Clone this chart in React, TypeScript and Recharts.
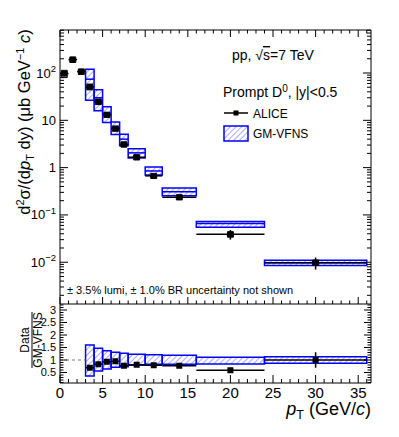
import {
  ComposedChart,
  XAxis,
  YAxis,
  Scatter,
  ErrorBar,
  ReferenceArea,
  ReferenceLine,
} from "recharts";

const W = 399;
const H = 437;
const FONT = "'Liberation Sans', Arial, Helvetica, sans-serif";
const BLUE = "#0000ff";

// ALICE prompt D0 cross section, pp 7 TeV
const binLo = [0, 1, 2, 3, 4, 5, 6, 7, 8, 10, 12, 16, 24];
const binHi = [1, 2, 3, 4, 5, 6, 7, 8, 10, 12, 16, 24, 36];
const ptCenter = [0.5, 1.5, 2.5, 3.5, 4.5, 5.5, 6.5, 7.5, 9, 11, 14, 20, 30];
const xsec = [97, 192, 107, 51, 24.7, 13.1, 6.7, 3.1, 1.66, 0.67, 0.237, 0.039, 0.0098];
const xsecStat = [12, 8, 5, 2.5, 1, 0.5, 0.25, 0.12, 0.06, 0.025, 0.01, 0.009, 0.0028];
const xsecSyst = [17, 25, 14, 7, 3.2, 1.6, 0.8, 0.38, 0.2, 0.08, 0.028, 0.005, 0.0012];

// GM-VFNS prediction
const gmLo = [3, 4, 5, 6, 7, 8, 10, 12, 16, 24];
const gmHi = [4, 5, 6, 7, 8, 10, 12, 16, 24, 36];
const gmCentral = [74, 30, 14.1, 7.05, 4.0, 2.05, 0.85, 0.31, 0.066, 0.0098];
const gmMin = [26.5, 16, 9, 5, 2.9, 1.6, 0.7, 0.255, 0.055, 0.0085];
const gmMax = [120, 44, 19.3, 9.2, 5.1, 2.5, 1.03, 0.37, 0.073, 0.011];

// Data / GM-VFNS
const ratioLo = [3, 4, 5, 6, 7, 8, 10, 12, 16, 24];
const ratioHi = [4, 5, 6, 7, 8, 10, 12, 16, 24, 36];
const ratioPt = [3.5, 4.5, 5.5, 6.5, 7.5, 9, 11, 14, 20, 30];
const ratio = [0.69, 0.83, 0.93, 0.95, 0.77, 0.81, 0.79, 0.77, 0.59, 1.0];
const ratioStat = [0.03, 0.03, 0.03, 0.03, 0.03, 0.03, 0.03, 0.04, 0.05, 0.31];
const gmRatioMin = [0.36, 0.56, 0.64, 0.71, 0.73, 0.79, 0.83, 0.83, 0.84, 0.87];
const gmRatioMax = [1.6, 1.47, 1.37, 1.31, 1.27, 1.23, 1.21, 1.19, 1.11, 1.13];

// axes
const X_DOMAIN: [number, number] = [0, 36.5];
const Y_DOMAIN: [number, number] = [0.00131, 811];
const R_DOMAIN: [number, number] = [0.08, 3.24];
const xMajor = [0, 5, 10, 15, 20, 25, 30, 35];
const yMajorTop = [0.01, 0.1, 1, 10, 100];
const yTopLabels: [string, string][] = [
  ["10", "\u22122"],
  ["10", "\u22121"],
  ["1", ""],
  ["10", ""],
  ["10", "2"],
];
const yMajorRatio = [0.5, 1, 1.5, 2, 2.5, 3];

const xMinor: number[] = [];
for (let i = 1; i <= 36; i++) if (i % 5 !== 0) xMinor.push(i);
const yMinorTop: number[] = [];
for (let e = -3; e <= 2; e++)
  for (let m = 2; m <= 9; m++) {
    const v = m * Math.pow(10, e);
    if (v > Y_DOMAIN[0] && v < Y_DOMAIN[1]) yMinorTop.push(v);
  }
const yMinorRatio: number[] = [];
for (let i = 1; i <= 32; i++) if (i % 5 !== 0) yMinorRatio.push(i / 10);

const dataPoints = ptCenter.map((x, i) => ({
  x,
  y: xsec[i],
  ex: (binHi[i] - binLo[i]) / 2,
  ey: xsecStat[i],
}));
const ratioPoints = ratioPt.map((x, i) => ({
  x,
  y: ratio[i],
  ex: (ratioHi[i] - ratioLo[i]) / 2,
  ey: ratioStat[i],
}));

const noLabel = () => <g />;

const Square = (p: any) => (
  <rect x={p.cx - 3} y={p.cy - 3} width={6} height={6} fill="#000" />
);

const PowTick = (p: any) => {
  const idx = yMajorTop.indexOf(p.payload.value);
  const [base, exp] = yTopLabels[idx] || ["", ""];
  return (
    <text x={p.x} y={p.y + 4.5} textAnchor="end" fontSize={13} fontFamily={FONT} fill="#000">
      {base}
      {exp && (
        <tspan dy={-5.5} fontSize={9.5}>
          {exp}
        </tspan>
      )}
    </text>
  );
};

// tiny but non-zero thickness so the axis still renders
const THIN = 0.01;

function xTickAxis(id: string, ticks: number[], size: number, orient: "top" | "bottom", line: boolean) {
  return (
    <XAxis
      key={id}
      xAxisId={id}
      type="number"
      dataKey="x"
      domain={X_DOMAIN}
      allowDataOverflow
      ticks={ticks}
      interval={0}
      orientation={orient}
      mirror
      height={THIN}
      tickSize={size}
      tick={noLabel}
      axisLine={line ? { stroke: "#000" } : false}
      tickLine={{ stroke: "#000" }}
    />
  );
}

function yTickAxis(
  id: string,
  ticks: number[],
  size: number,
  orient: "left" | "right",
  line: boolean,
  log: boolean,
  domain: [number, number]
) {
  return (
    <YAxis
      key={id}
      yAxisId={id}
      type="number"
      scale={log ? "log" : "linear"}
      domain={domain}
      allowDataOverflow
      ticks={ticks}
      interval={0}
      orientation={orient}
      mirror
      width={THIN}
      tickSize={size}
      tick={noLabel}
      axisLine={line ? { stroke: "#000" } : false}
      tickLine={{ stroke: "#000" }}
    />
  );
}

const Hatch = ({ id }: { id: string }) => (
  <pattern id={id} patternUnits="userSpaceOnUse" width={4} height={4} patternTransform="rotate(45)">
    <line x1={0} y1={0} x2={0} y2={4} stroke="#2a2aff" strokeWidth={0.8} />
  </pattern>
);

function TopPanel() {
  return (
    <ComposedChart width={W} height={H} margin={{ top: 30, right: 28, bottom: 133, left: 0 }}>
      <defs>
        <Hatch id="hatchTop" />
      </defs>
      {xTickAxis("xb", xMajor, 7, "bottom", true)}
      {xTickAxis("xbm", xMinor, 3.5, "bottom", false)}
      {xTickAxis("xt", xMajor, 7, "top", true)}
      {xTickAxis("xtm", xMinor, 3.5, "top", false)}
      <YAxis
        yAxisId="y"
        type="number"
        dataKey="y"
        scale="log"
        domain={Y_DOMAIN}
        allowDataOverflow
        ticks={yMajorTop}
        interval={0}
        width={60}
        tickSize={0}
        tickMargin={4}
        tickLine={false}
        axisLine={false}
        tick={PowTick}
      />
      {yTickAxis("yl", yMajorTop, 8, "left", true, true, Y_DOMAIN)}
      {yTickAxis("ylm", yMinorTop, 4, "left", false, true, Y_DOMAIN)}
      {yTickAxis("yr", yMajorTop, 8, "right", true, true, Y_DOMAIN)}
      {yTickAxis("yrm", yMinorTop, 4, "right", false, true, Y_DOMAIN)}

      {gmLo.map((lo, i) => (
        <ReferenceArea
          key={`gm-${i}`}
          xAxisId="xb"
          yAxisId="y"
          x1={lo}
          x2={gmHi[i]}
          y1={gmMin[i]}
          y2={gmMax[i]}
          fill="url(#hatchTop)"
          fillOpacity={1}
          stroke={BLUE}
          strokeWidth={1.5}
        />
      ))}
      {gmLo.map((lo, i) => (
        <ReferenceLine
          key={`gmc-${i}`}
          xAxisId="xb"
          yAxisId="y"
          segment={[
            { x: lo, y: gmCentral[i] },
            { x: gmHi[i], y: gmCentral[i] },
          ]}
          stroke={BLUE}
          strokeWidth={1.5}
        />
      ))}
      {ptCenter.map((x, i) => (
        <ReferenceArea
          key={`sys-${i}`}
          xAxisId="xb"
          yAxisId="y"
          x1={x - 0.35}
          x2={x + 0.35}
          y1={xsec[i] - xsecSyst[i]}
          y2={xsec[i] + xsecSyst[i]}
          fill="none"
          fillOpacity={0}
          stroke="#000"
          strokeWidth={1}
        />
      ))}
      <Scatter
        xAxisId="xb"
        yAxisId="y"
        data={dataPoints}
        shape={Square}
        isAnimationActive={false}
      >
        <ErrorBar dataKey="ey" direction="y" width={0} stroke="#000" strokeWidth={1.5} />
        <ErrorBar dataKey="ex" direction="x" width={0} stroke="#000" strokeWidth={1.5} />
      </Scatter>
    </ComposedChart>
  );
}

function BottomPanel() {
  return (
    <ComposedChart width={W} height={H} margin={{ top: 304, right: 28, bottom: 29, left: 0 }}>
      <defs>
        <Hatch id="hatchBot" />
      </defs>
      <XAxis
        xAxisId="x"
        type="number"
        dataKey="x"
        domain={X_DOMAIN}
        allowDataOverflow
        ticks={xMajor}
        interval={0}
        height={25}
        tickSize={0}
        tickMargin={4}
        tickLine={false}
        axisLine={false}
        tick={{ fontSize: 15, fill: "#000", fontFamily: FONT }}
      />
      {xTickAxis("xb", xMajor, 8, "bottom", true)}
      {xTickAxis("xbm", xMinor, 4, "bottom", false)}
      <YAxis
        yAxisId="y"
        type="number"
        dataKey="y"
        domain={R_DOMAIN}
        allowDataOverflow
        ticks={yMajorRatio}
        interval={0}
        width={60}
        tickSize={0}
        tickMargin={4}
        tickLine={false}
        axisLine={false}
        tick={{ fontSize: 11, fill: "#000", fontFamily: FONT }}
      />
      {yTickAxis("yl", yMajorRatio, 7, "left", true, false, R_DOMAIN)}
      {yTickAxis("ylm", yMinorRatio, 3.5, "left", false, false, R_DOMAIN)}
      {yTickAxis("yr", yMajorRatio, 7, "right", true, false, R_DOMAIN)}
      {yTickAxis("yrm", yMinorRatio, 3.5, "right", false, false, R_DOMAIN)}

      <ReferenceLine
        xAxisId="x"
        yAxisId="y"
        segment={[
          { x: 0, y: 1 },
          { x: 3, y: 1 },
        ]}
        stroke="#777"
        strokeDasharray="3 3"
      />
      {ratioLo.map((lo, i) => (
        <ReferenceArea
          key={`gr-${i}`}
          xAxisId="x"
          yAxisId="y"
          x1={lo}
          x2={ratioHi[i]}
          y1={gmRatioMin[i]}
          y2={gmRatioMax[i]}
          fill="url(#hatchBot)"
          fillOpacity={1}
          stroke={BLUE}
          strokeWidth={1.5}
        />
      ))}
      <Scatter
        xAxisId="x"
        yAxisId="y"
        data={ratioPoints}
        shape={Square}
        isAnimationActive={false}
      >
        <ErrorBar dataKey="ey" direction="y" width={0} stroke="#000" strokeWidth={1.5} />
        <ErrorBar dataKey="ex" direction="x" width={0} stroke="#000" strokeWidth={1.5} />
      </Scatter>
    </ComposedChart>
  );
}

function Labels() {
  return (
    <svg
      width={W}
      height={H}
      style={{ position: "absolute", left: 0, top: 0, pointerEvents: "none" }}
      fontFamily={FONT}
    >
      <defs>
        <Hatch id="hatchLeg" />
      </defs>
      <text x={232} y={60} fontSize={14}>
        pp, {"\u221A"}
        <tspan textDecoration="overline">s</tspan>=7 TeV
      </text>
      <text x={223} y={97} fontSize={14}>
        Prompt D
        <tspan dy={-5} fontSize={10}>0</tspan>
        <tspan dy={5}>, |y|&lt;0.5</tspan>
      </text>
      <line x1={224} y1={113} x2={248} y2={113} stroke="#000" strokeWidth={1.5} />
      <rect x={233.5} y={110.5} width={5} height={5} fill="#000" />
      <text x={253} y={117.5} fontSize={12}>
        ALICE
      </text>
      <rect x={224} y={126} width={24} height={15} fill="url(#hatchLeg)" stroke={BLUE} strokeWidth={1.5} />
      <text x={253} y={138} fontSize={12}>
        GM-VFNS
      </text>
      <text x={67} y={294} fontSize={11}>
        ± 3.5% lumi, ± 1.0% BR uncertainty not shown
      </text>

      <text transform="translate(30,122) rotate(-90)" textAnchor="middle" fontSize={16.5}>
        d<tspan dy={-6} fontSize={11}>2</tspan>
        <tspan dy={6}>{"\u03C3/(d"}</tspan>
        <tspan fontStyle="italic">p</tspan>
        <tspan dy={4} fontSize={11}>T</tspan>
        <tspan dy={-4}> dy) ({"\u03BC"}b GeV</tspan>
        <tspan dy={-6} fontSize={11}>{"\u22121"}</tspan>
        <tspan dy={6}> </tspan>
        <tspan fontStyle="italic">c</tspan>)
      </text>

      <g transform="translate(0,340) rotate(-90)">
        <text x={0} y={29} textAnchor="middle" fontSize={12}>
          Data
        </text>
        <line x1={-28} x2={28} y1={32} y2={32} stroke="#000" strokeWidth={1} />
        <text x={0} y={42} textAnchor="middle" fontSize={12}>
          GM-VFNS
        </text>
      </g>

      <text x={371} y={415} textAnchor="end" fontSize={18}>
        <tspan fontStyle="italic">p</tspan>
        <tspan dy={4} fontSize={12.5}>T</tspan>
        <tspan dy={-4}> (GeV/</tspan>
        <tspan fontStyle="italic">c</tspan>)
      </text>
    </svg>
  );
}

export default function App() {
  return (
    <div style={{ position: "absolute", left: 0, top: 0, width: W, height: H, background: "#fff" }}>
      <div style={{ position: "absolute", left: 0, top: 0 }}>
        <TopPanel />
      </div>
      <div style={{ position: "absolute", left: 0, top: 0 }}>
        <BottomPanel />
      </div>
      <Labels />
    </div>
  );
}
